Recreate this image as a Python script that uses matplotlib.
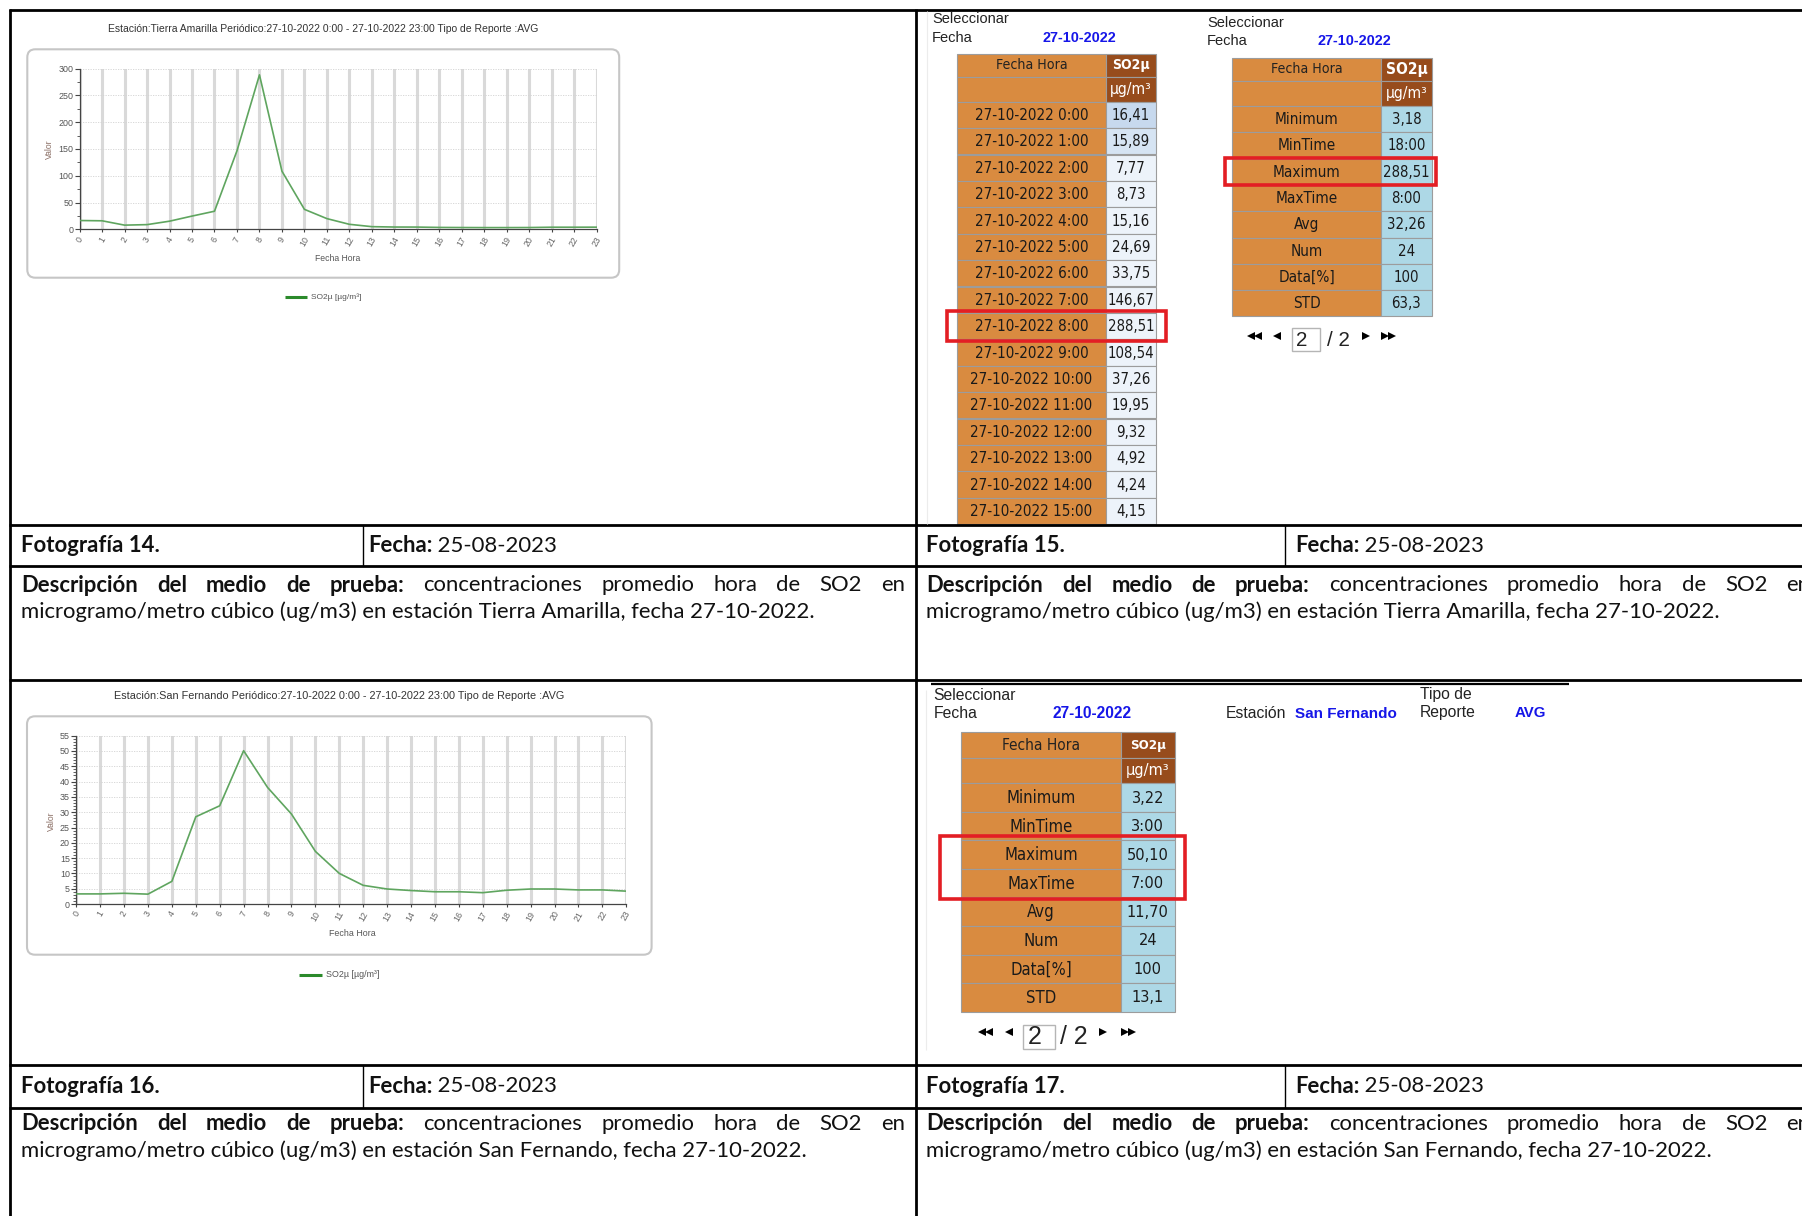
import matplotlib
matplotlib.use("Agg")
import matplotlib.pyplot as plt
from matplotlib.patches import Rectangle, FancyBboxPatch
from matplotlib.ticker import MultipleLocator

W, H = 1802, 1216

# ---------------- data ----------------
hours = list(range(24))
so2_tierra_amarilla = [16.41, 15.89, 7.77, 8.73, 15.16, 24.69, 33.75, 146.67, 288.51,
                       108.54, 37.26, 19.95, 9.32, 4.92, 4.24, 4.15, 3.5, 3.3, 3.18,
                       3.2, 3.3, 3.9, 3.9, 4.0]
so2_san_fernando = [3.3, 3.3, 3.5, 3.22, 7.4, 28.5, 32.1, 50.10, 38.1, 29.4, 17.2, 10.0,
                    6.1, 4.9, 4.4, 4.0, 4.0, 3.7, 4.5, 4.9, 4.9, 4.6, 4.6, 4.2]
report_date = "27-10-2022"
station_ta = "Tierra Amarilla"
station_sf = "San Fernando"
report_type = "AVG"
rows_shown = 16
stat_labels = ["Minimum", "MinTime", "Maximum", "MaxTime", "Avg", "Num", "Data[%]", "STD"]
stat_values_ta = ["3,18", "18:00", "288,51", "8:00", "32,26", "24", "100", "63,3"]
stat_values_sf = ["3,22", "3:00", "50,10", "7:00", "11,70", "24", "100", "13,1"]
photo_labels = ["Fotografía 14.", "Fotografía 15.", "Fotografía 16.", "Fotografía 17."]
photo_date = "25-08-2023"
series_name = "SO2µ [µg/m³]"
col_header = "Fecha Hora"
val_header = "SO2µ"
unit_header = "µg/m³"

# ---------------- style ----------------
CAP = "Lato"
CH = "Liberation Sans"
TB = "DejaVu Sans"
ORANGE = "#d98b40"
BROWN = "#974c1c"
LBLUE = "#add8e6"
RED = "#e31e24"
BLUE = "#1616e8"

fig = plt.figure(figsize=(W / 100, H / 100), dpi=100)
L = fig.add_axes([0, 0, 1, 1])
L.set_xlim(0, W)
L.set_ylim(H, 0)
L.axis("off")
R = fig.canvas.get_renderer()


def fit_size(s, width, **kw):
    t = L.text(0, 0, s, fontsize=10, **kw)
    w = t.get_window_extent(R).width
    t.remove()
    return 10 * width / w


def put(x, y, s, width=None, size=10, ha="left", va="center", **kw):
    if width is not None:
        size = fit_size(s, width, **kw)
    return L.text(x, y, s, fontsize=size, ha=ha, va=va, **kw)


def hline(y, x0, x1, lw=2.0, color="black"):
    L.plot([x0, x1], [y, y], color=color, lw=lw, solid_capstyle="butt")


def vline(x, y0, y1, lw=2.0, color="black"):
    L.plot([x, x], [y0, y1], color=color, lw=lw, solid_capstyle="butt")


# ---------------- page grid ----------------
for y in (10, 525, 565.5, 680, 1065, 1108):
    hline(y, 9, W)
vline(10, 9, H)
vline(916, 9, H)
for (ya, yb) in ((525, 565.5), (1065, 1108)):
    vline(363, ya, yb, lw=1.0)
    vline(1285, ya, yb, lw=1.0)
hline(683.5, 931, 1569, lw=1.6)
# faint screenshot edges
vline(927, 11, 524, lw=0.8, color="#ececec")
vline(926, 690, 1050, lw=0.8, color="#ececec")

# ---------------- captions ----------------
cap_fs = fit_size(f"microgramo/metro cúbico (ug/m3) en estación {station_ta}, fecha {report_date}.",
                  795, family=CAP)


def justified(x0, x1, y, segments, fs):
    words = []
    for txt, wt in segments:
        for w in txt.split():
            words.append((w, wt))
    ts = [L.text(0, y, w, fontsize=fs, fontweight=wt, family=CAP, va="center", color="#111")
          for w, wt in words]
    widths = [t.get_window_extent(R).width for t in ts]
    gap = (x1 - x0 - sum(widths)) / (len(ts) - 1)
    x = x0
    for t, w in zip(ts, widths):
        t.set_x(x)
        x += w + gap


def caption(xc, yrow, label, station, yl1, yl2):
    xs, xf = xc
    L.text(xs, yrow, label, fontsize=cap_fs, fontweight="bold", family=CAP, va="center", color="#111")
    t = L.text(xf, yrow, "Fecha:", fontsize=cap_fs, fontweight="bold", family=CAP, va="center", color="#111")
    w = t.get_window_extent(R).width
    L.text(xf + w, yrow, " " + photo_date, fontsize=cap_fs, family=CAP, va="center", color="#111")
    justified(xs, xs + 884, yl1, [("Descripción del medio de prueba:", "bold"),
                                  ("concentraciones promedio hora de SO2 en", "normal")], cap_fs)
    L.text(xs, yl2, f"microgramo/metro cúbico (ug/m3) en estación {station}, fecha {report_date}.",
           fontsize=cap_fs, family=CAP, va="center", color="#111")


caption((21, 368), 545.5, photo_labels[0], station_ta, 585, 611.5)
caption((926.5, 1295), 545.5, photo_labels[1], station_ta, 585, 611.5)
caption((21, 368), 1086.5, photo_labels[2], station_sf, 1124, 1150.5)
caption((926.5, 1295), 1086.5, photo_labels[3], station_sf, 1124, 1150.5)


# ---------------- charts ----------------
def chart(values, ymax, major, minor, station, plot, box, title_c, title_w,
          valor_xy, fecha_xy, fecha_w, leg, leg_w):
    l, t, r, b = plot
    bx0, by0, bx1, by1 = box
    L.add_patch(FancyBboxPatch((bx0, by0), bx1 - bx0, by1 - by0,
                               boxstyle="round,pad=0,rounding_size=8",
                               fc="white", ec="#c6c6c6", lw=1.5))
    title = (f"Estación:{station} Periódico:{report_date} 0:00 - {report_date} 23:00 "
             f"Tipo de Reporte :{report_type}")
    put(title_c[0], title_c[1], title, width=title_w, ha="center", family=CH, color="#333")
    ax = fig.add_axes([l / W, 1 - b / H, (r - l) / W, (b - t) / H])
    ax.set_facecolor("white")
    ax.plot(hours, values, color="#5fa55f", lw=1.2, zorder=3)
    ax.set_xlim(0, 23)
    ax.set_ylim(0, ymax)
    ax.set_xticks(hours)
    ax.set_xticklabels([str(h) for h in hours], rotation=60, ha="center", va="top",
                       family=CH, fontsize=6.3, color="#666")
    ax.yaxis.set_major_locator(MultipleLocator(major))
    ax.yaxis.set_minor_locator(MultipleLocator(minor))
    for lab in ax.get_yticklabels():
        lab.set_family(CH)
    ax.tick_params(axis="y", which="major", length=3.5, width=0.8, color="#444",
                   labelsize=6.4, labelcolor="#555", pad=1)
    ax.tick_params(axis="y", which="minor", length=2.2, width=0.6, color="#444")
    ax.tick_params(axis="x", which="major", length=2.5, width=0.8, color="#444", pad=1.5)
    ax.grid(axis="x", color="#d9d9d9", lw=2.2)
    ax.grid(axis="y", color="#d2d2d2", lw=0.6, ls=(0, (1.5, 1.5)))
    ax.set_axisbelow(True)
    for s in ("top", "right"):
        ax.spines[s].set_visible(False)
    for s in ("left", "bottom"):
        ax.spines[s].set_color("#444")
        ax.spines[s].set_linewidth(0.9)
    put(valor_xy[0], valor_xy[1], "Valor", size=6.2, ha="center", rotation=90,
        family=CH, color="#8a6e64")
    put(fecha_xy[0], fecha_xy[1], "Fecha Hora", width=fecha_w, ha="center", family=CH, color="#555")
    lx0, lx1, ly, lt = leg
    L.plot([lx0, lx1], [ly, ly], color="#2b8a2b", lw=2.2, solid_capstyle="butt")
    put(lt, ly, series_name, width=leg_w, family=CH, color="#555")


chart(so2_tierra_amarilla, 300, 50, 25, station_ta, (79.6, 68.7, 596.7, 229.3),
      (27.3, 49.3, 619.2, 277.7), (323, 29.5), 430, (49.8, 149), (337.5, 258.5), 45,
      (284.5, 306.9, 296.7, 311), 50)
chart(so2_san_fernando, 55, 5, 1, station_sf, (76.2, 735.7, 626.3, 904),
      (27, 716.3, 651.6, 954.7), (339.3, 695.7), 451, (51.8, 820.7), (351.9, 934), 46.7,
      (298.5, 321.6, 974.7, 325.8), 53.5)


# ---------------- tables ----------------
def cell(x, y, w, h, fc):
    L.add_patch(Rectangle((x, y), w, h, fc=fc, ec="#9c9c9c", lw=0.8))


def draw_table(x0, xm, x1, yh, yh2, yr, rh, labels, values, vcolors, lab_w, lab_ref,
               val_w, val_ref, hdr_w, so2_w, unit_w, red_rows, red_pad):
    tk = dict(family=TB, fontstretch="condensed")
    cell(x0, yh, xm - x0, yh2 - yh, ORANGE)
    cell(xm, yh, x1 - xm, yh2 - yh, BROWN)
    cell(x0, yh2, xm - x0, yr - yh2, ORANGE)
    cell(xm, yh2, x1 - xm, yr - yh2, BROWN)
    put((x0 + xm) / 2, (yh + yh2) / 2, col_header, width=hdr_w, ha="center", color="#222", **tk)
    put((xm + x1) / 2, (yh + yh2) / 2, val_header, width=so2_w, ha="center", color="white",
        fontweight="bold", **tk)
    put((xm + x1) / 2, (yh2 + yr) / 2, unit_header, width=unit_w, ha="center", color="white", **tk)
    lfs = fit_size(lab_ref, lab_w, **tk)
    vfs = fit_size(val_ref, val_w, **tk)
    for i, (lab, val) in enumerate(zip(labels, values)):
        y = yr + i * rh
        cell(x0, y, xm - x0, rh, ORANGE)
        cell(xm, y, x1 - xm, rh, vcolors[i])
        L.text((x0 + xm) / 2, y + rh / 2 + 0.5, lab, fontsize=lfs, ha="center", va="center",
               color="#1a1a1a", **tk)
        L.text((xm + x1) / 2, y + rh / 2 + 0.5, val, fontsize=vfs, ha="center", va="center",
               color="#1a1a1a", **tk)
    r0, r1 = red_rows
    pl, pr, pt, pb = red_pad
    L.add_patch(Rectangle((x0 - pl, yr + r0 * rh - pt), (x1 + pr) - (x0 - pl),
                          (r1 - r0 + 1) * rh + pt + pb, fc="none", ec=RED, lw=2.6, zorder=5))


# hourly table (Tierra Amarilla)
hourly_labels = [f"{report_date} {h}:00" for h in hours[:rows_shown]]
hourly_values = [f"{v:.2f}".replace(".", ",") for v in so2_tierra_amarilla[:rows_shown]]
hourly_colors = ["#c7d9ee", "#d6e4f3"] + ["#edf3fa"] * (rows_shown - 2)
imax = max(range(rows_shown), key=lambda i: so2_tierra_amarilla[i])
draw_table(957, 1106, 1156, 53.7, 77, 101.7, 26.4, hourly_labels, hourly_values, hourly_colors,
           114, hourly_labels[0], 38, hourly_values[0], 71.7, 37.7, 41.7, (imax, imax), (10, 10, 1.5, 1.5))

# stats table (Tierra Amarilla)
kmax = stat_labels.index("Maximum")
draw_table(1232, 1381, 1432, 57.7, 81, 106, 26.3, stat_labels, stat_values_ta, [LBLUE] * 8,
           63.7, "Minimum", 46.7, "288,51", 71.7, 41.7, 41.7, (kmax, kmax), (7, 4, 1, 0.5))

# stats table (San Fernando)
draw_table(961.1, 1121, 1174.5, 732.3, 758, 783.3, 28.55, stat_labels, stat_values_sf, [LBLUE] * 8,
           69.4, "Minimum", 42.1, "50,10", 77.9, 35.8, 43.8, (kmax, kmax + 1), (21, 10.5, 4.7, 1.5))

# ---------------- selector headers ----------------
s1 = fit_size("Seleccionar", 76.7, family=CH)
put(932, 19, "Seleccionar", size=s1, family=CH, color="#222")
put(932, 37.5, "Fecha", size=s1, family=CH, color="#222")
put(1079, 37.5, report_date, width=73, ha="center", family=CH, fontweight="bold", color=BLUE)

put(1207, 23, "Seleccionar", size=s1, family=CH, color="#222")
put(1207, 41, "Fecha", size=s1, family=CH, color="#222")
put(1354.5, 41, report_date, width=73, ha="center", family=CH, fontweight="bold", color=BLUE)

sfs = fit_size("Seleccionar", 82.9, family=CH)
put(933.7, 695, "Seleccionar", size=sfs, family=CH, color="#222")
put(933.7, 714, "Fecha", size=sfs, family=CH, color="#222")
put(1092, 714, report_date, width=78.7, ha="center", family=CH, fontweight="bold", color=BLUE)
put(1226.2, 713.5, "Estación", size=sfs, family=CH, color="#222")
put(1294.8, 713.5, station_sf, width=101.9, family=CH, fontweight="bold", color=BLUE)
put(1419.8, 694, "Tipo de", size=sfs, family=CH, color="#222")
put(1419.8, 713, "Reporte", size=sfs, family=CH, color="#222")
put(1514.5, 713, report_type, width=31.6, family=CH, fontweight="bold", color=BLUE)


# ---------------- pagers ----------------
def pager(ya, yn, dbl_l, sgl_l, box, num_x, slash_x, slash_w, sgl_r, dbl_r, ms):
    for x in dbl_l:
        L.plot(x, ya, marker="<", ms=ms, color="black", mew=0)
    L.plot(sgl_l, ya, marker="<", ms=ms, color="black", mew=0)
    L.plot(sgl_r, ya, marker=">", ms=ms, color="black", mew=0)
    for x in dbl_r:
        L.plot(x, ya, marker=">", ms=ms, color="black", mew=0)
    bx0, by0, bx1, by1 = box
    L.add_patch(Rectangle((bx0, by0), bx1 - bx0, by1 - by0, fc="white", ec="#b5b5b5", lw=1.0))
    fs = fit_size("/ 2", slash_w, family=CH)
    L.text(num_x, yn, "2", fontsize=fs, family=CH, va="center", color="#222")
    L.text(slash_x, yn, "/ 2", fontsize=fs, family=CH, va="center", color="#222")


pager(336, 340, (1251, 1258), 1277, (1291.7, 328.3, 1320, 351), 1296, 1327, 23, 1365.5,
      (1385, 1392), 5.5)
pager(1032, 1037, (981.5, 988.5), 1008.5, (1023.4, 1024.7, 1054.5, 1049), 1027.6, 1060, 28, 1103,
      (1125, 1132), 6)

fig.savefig("out.png", dpi=100)
